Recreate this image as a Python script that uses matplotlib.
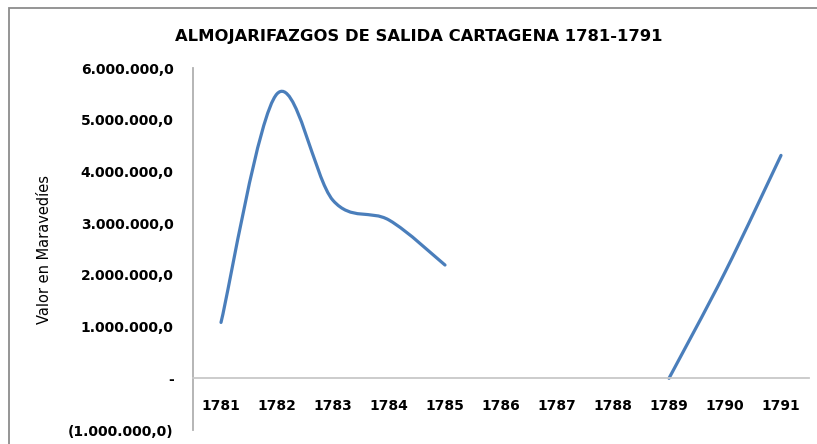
import numpy as np
import matplotlib
matplotlib.use("Agg")
import matplotlib.pyplot as plt
from matplotlib.patches import Rectangle
from matplotlib.path import Path
from matplotlib.patches import PathPatch

years = ["1781", "1782", "1783", "1784", "1785", "1786", "1787", "1788", "1789", "1790", "1791"]
values = [1080000, 5500000, 3440000, 3060000, 2190000, np.nan, np.nan, np.nan, 0, 2050000, 4310000]
ytick_values = [-1000000, 0, 1000000, 2000000, 3000000, 4000000, 5000000, 6000000]
ytick_labels = ["(1.000.000,0)", "-", "1.000.000,0", "2.000.000,0", "3.000.000,0",
                "4.000.000,0", "5.000.000,0", "6.000.000,0"]
title = "ALMOJARIFAZGOS DE SALIDA CARTAGENA 1781-1791"
ylabel = "Valor en Maravedíes"

plt.rcParams['font.family'] = ['DejaVu Sans']

W, H = 817, 444
fig = plt.figure(figsize=(W / 100, H / 100), dpi=100)

# chart frame
fig.add_artist(Rectangle((9 / W, -0.1), 1.2, 1 - 8 / H + 0.1, transform=fig.transFigure,
                         fill=False, edgecolor='#8c8c8c', linewidth=1.3))

ax = fig.add_axes([193 / W, 1 - 430 / H, (809 - 193) / W, (430 - 68) / H])
x = np.arange(len(years))
y = np.array(values, dtype=float)

# Excel-like smoothed line (Catmull-Rom Bezier) per contiguous segment
segments = []
cur = []
for i, v in enumerate(y):
    if np.isnan(v):
        if cur:
            segments.append(cur)
        cur = []
    else:
        cur.append(i)
if cur:
    segments.append(cur)

for seg in segments:
    pts = np.array([[x[i], y[i]] for i in seg])
    n = len(pts)
    verts = [pts[0]]
    codes = [Path.MOVETO]
    for k in range(n - 1):
        p0 = pts[k - 1] if k > 0 else pts[k]
        p1 = pts[k]
        p2 = pts[k + 1]
        p3 = pts[k + 2] if k + 2 < n else pts[k + 1]
        c1 = p1 + (p2 - p0) / 6
        c2 = p2 - (p3 - p1) / 6
        verts += [c1, c2, p2]
        codes += [Path.CURVE4] * 3
    ax.add_patch(PathPatch(Path(verts, codes), facecolor='none', edgecolor='#4A7EBB',
                           linewidth=2.3, capstyle='round', joinstyle='round'))

ax.set_xlim(-0.5, len(years) - 0.5)
ax.set_ylim(-1000000, 6000000)
ax.set_yticks(ytick_values)
ax.set_yticklabels(ytick_labels)
ax.set_xticks(x)
ax.set_xticklabels(years)

for s in ['top', 'right']:
    ax.spines[s].set_visible(False)
ax.spines['left'].set_color('#b0b0b0')
ax.spines['left'].set_linewidth(1.3)
ax.spines['bottom'].set_position(('data', 0))
ax.spines['bottom'].set_color('#c8c8c8')
ax.spines['bottom'].set_linewidth(1.3)
ax.tick_params(axis='both', length=0)
ax.tick_params(axis='y', pad=14, labelsize=10)
ax.tick_params(axis='x', pad=15, labelsize=10)
for lab in ax.get_yticklabels() + ax.get_xticklabels():
    lab.set_fontweight('bold')

fig.text(419 / W, 1 - 37 / H, title, ha='center', va='center', fontsize=11.8,
         fontweight='bold')
fig.text(45 / W, 1 - 249 / H, ylabel, ha='center', va='center', rotation=90, fontsize=10.5)

fig.savefig("out.png", dpi=100)
